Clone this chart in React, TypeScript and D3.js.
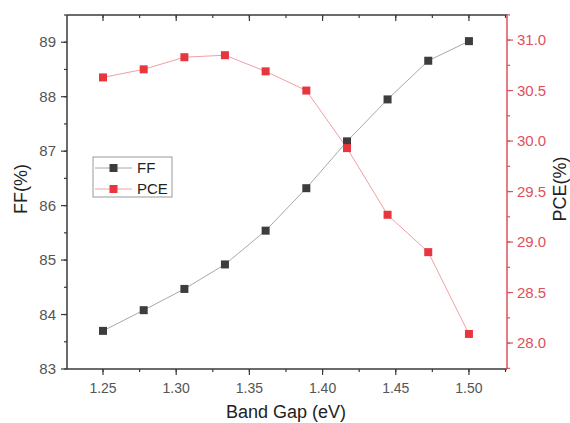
import React from "react";
import * as d3 from "d3";

const bandGap = [1.25, 1.2778, 1.3056, 1.3333, 1.3611, 1.3889, 1.4167, 1.4444, 1.4722, 1.5];
const ffValues = [83.7, 84.08, 84.47, 84.92, 85.54, 86.32, 87.18, 87.95, 88.66, 89.02];
const pceValues = [30.63, 30.71, 30.83, 30.85, 30.69, 30.5, 29.93, 29.27, 28.9, 28.09];
const xTicks = [1.25, 1.3, 1.35, 1.4, 1.45, 1.5];
const ffTicks = [83, 84, 85, 86, 87, 88, 89];
const pceTicks = [28.0, 28.5, 29.0, 29.5, 30.0, 30.5, 31.0];

const W = 570, H = 423;
const L = 67, R = 507, T = 15, B = 369;
const FONT = "'Liberation Sans', Arial, sans-serif";
const AX = "#3a3a3a";
const RED = "#e0505a";
const FFC = "#3d3d3d";
const PCEC = "#e8363f";

export default function App() {
  const x = d3.scaleLinear().domain([1.2254, 1.526]).range([L, R]);
  const yF = d3.scaleLinear().domain([83, 89.5]).range([B, T]);
  const yP = d3.scaleLinear().domain([27.743, 31.248]).range([B, T]);
  const ffLine = d3.line<number>().x((_, i) => x(bandGap[i])).y((d) => yF(d));
  const pceLine = d3.line<number>().x((_, i) => x(bandGap[i])).y((d) => yP(d));
  const xMinor = d3.range(1.225, 1.526, 0.025).filter((v) => x(v) >= L && x(v) <= R);
  const ffMinor = d3.range(83, 89.6, 0.5);
  const pceMinor = d3.range(27.75, 31.26, 0.25);
  const ms = 8;

  return (
    <svg width={W} height={H} style={{ position: "absolute", left: 0, top: 0, background: "#fff" }} fontFamily={FONT}>
      <rect x={0} y={0} width={W} height={H} fill="#fff" />
      <path d={ffLine(ffValues) || ""} fill="none" stroke="#a8a8a8" strokeWidth={1} />
      <path d={pceLine(pceValues) || ""} fill="none" stroke="#f0a0a4" strokeWidth={1} />
      {ffValues.map((v, i) => (
        <rect key={"f" + i} x={x(bandGap[i]) - ms / 2} y={yF(v) - ms / 2} width={ms} height={ms} fill={FFC} />
      ))}
      {pceValues.map((v, i) => (
        <rect key={"p" + i} x={x(bandGap[i]) - ms / 2} y={yP(v) - ms / 2} width={ms} height={ms} fill={PCEC} />
      ))}

      <line x1={L} x2={R} y1={B} y2={B} stroke={AX} strokeWidth={1.5} />
      {xMinor.map((v, i) => (
        <line key={"bm" + i} x1={x(v)} x2={x(v)} y1={B} y2={B + 3} stroke={AX} strokeWidth={1.2} />
      ))}
      {xTicks.map((v) => (
        <g key={"bx" + v}>
          <line x1={x(v)} x2={x(v)} y1={B} y2={B + 6} stroke={AX} strokeWidth={1.2} />
          <text x={x(v)} y={B + 24} textAnchor="middle" fontSize={14} fill="#555">{v.toFixed(2)}</text>
        </g>
      ))}
      <line x1={L} x2={R} y1={T} y2={T} stroke={AX} strokeWidth={1.5} />
      {xMinor.map((v, i) => (
        <line key={"tm" + i} x1={x(v)} x2={x(v)} y1={T} y2={T + 3} stroke={AX} strokeWidth={1.2} />
      ))}
      {xTicks.map((v) => (
        <line key={"tx" + v} x1={x(v)} x2={x(v)} y1={T} y2={T + 6} stroke={AX} strokeWidth={1.2} />
      ))}

      <line x1={L} x2={L} y1={T} y2={B} stroke={AX} strokeWidth={1.5} />
      {ffMinor.map((v, i) => (
        <line key={"lm" + i} x1={L - 3} x2={L} y1={yF(v)} y2={yF(v)} stroke={AX} strokeWidth={1.2} />
      ))}
      {ffTicks.map((v) => (
        <g key={"ly" + v}>
          <line x1={L - 6} x2={L} y1={yF(v)} y2={yF(v)} stroke={AX} strokeWidth={1.2} />
          <text x={L - 11} y={yF(v) + 5} textAnchor="end" fontSize={15} fill="#555">{v}</text>
        </g>
      ))}

      <line x1={R} x2={R} y1={T} y2={B} stroke={RED} strokeWidth={1.5} />
      {pceMinor.map((v, i) => (
        <line key={"rm" + i} x1={R} x2={R + 3} y1={yP(v)} y2={yP(v)} stroke={RED} strokeWidth={1.2} />
      ))}
      {pceTicks.map((v) => (
        <g key={"ry" + v}>
          <line x1={R} x2={R + 6} y1={yP(v)} y2={yP(v)} stroke={RED} strokeWidth={1.2} />
          <text x={R + 10} y={yP(v) + 5} textAnchor="start" fontSize={15} fill={RED}>{v.toFixed(1)}</text>
        </g>
      ))}

      <text x={286} y={418} textAnchor="middle" fontSize={18} fill="#222">Band Gap (eV)</text>
      <text transform={`translate(27,189) rotate(-90)`} textAnchor="middle" fontSize={18} fill="#222">FF(%)</text>
      <text transform={`translate(566,189) rotate(-90)`} textAnchor="middle" fontSize={18} fill="#222">PCE(%)</text>

      <rect x={93} y={157} width={79} height={40} fill="#fff" stroke="#999" strokeWidth={1} />
      <line x1={95} x2={132} y1={168} y2={168} stroke="#a8a8a8" strokeWidth={1} />
      <rect x={113.5 - ms / 2} y={168 - ms / 2} width={ms} height={ms} fill={FFC} />
      <text x={137} y={173} fontSize={15} fill="#222">FF</text>
      <line x1={95} x2={132} y1={189} y2={189} stroke="#f0a0a4" strokeWidth={1} />
      <rect x={113.5 - ms / 2} y={189 - ms / 2} width={ms} height={ms} fill={PCEC} />
      <text x={137} y={194} fontSize={15} fill="#222">PCE</text>
    </svg>
  );
}
